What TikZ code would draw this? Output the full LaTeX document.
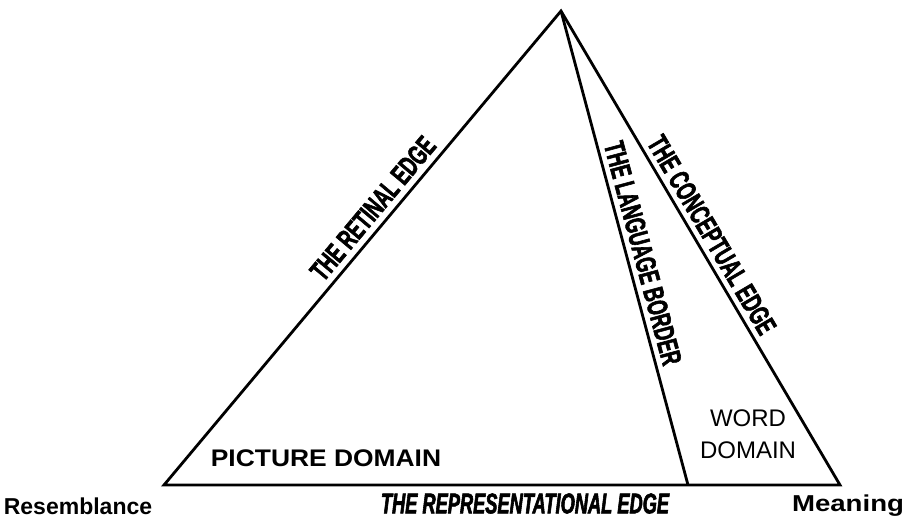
\documentclass[tikz,border=0pt]{standalone}
\usepackage{fontspec}
\setmainfont{Liberation Sans}
\newfontfamily\edgefont[FakeStretch=0.64,FakeBold=2]{Liberation Sans}
\usetikzlibrary{positioning}

\begin{document}
\begin{tikzpicture}[x=1pt,y=-1pt,line width=2.8pt,
    el/.style={font=\edgefont\fontsize{28.5}{28.5}\selectfont\bfseries,inner sep=0pt},
    lb/.style={font=\fontsize{23}{23}\selectfont\bfseries,inner sep=0pt}]
  \useasboundingbox (0,0) rectangle (912,523);
  \coordinate (t) at (561,11);
  \coordinate (r) at (164,485);
  \coordinate (m) at (840,485);
  \coordinate (b) at (688,485);
  \draw[line join=miter] (r) -- (t) -- (m) -- cycle;
  \draw (t) -- (b);
  % edge labels
  \path (r) -- node[el,sloped,pos=0.56,above=6pt] (re) {THE RETINAL EDGE} (t);
  \path (t) -- node[el,sloped,pos=0.52,above=5pt] (lb) {THE LANGUAGE BORDER} (b);
  \path (t) -- node[el,sloped,pos=0.49,above=5pt] (ce) {THE CONCEPTUAL EDGE} (m);
  \path (r) -- node[el,pos=0.534,below=7pt] (rp) {\itshape THE REPRESENTATIONAL EDGE} (m);
  % domains
  \node[lb,font=\fontsize{24}{24}\selectfont\bfseries] (pd) at (326,458) {\scalebox{1.1}[1]{PICTURE DOMAIN}};
  \node[align=center,inner sep=0pt,font=\fontsize{24}{32}\selectfont] (wd) at (748,434) {WORD\\DOMAIN};
  \node[lb] (rs) at (78,506) {Resemblance};
  \node[lb] (mn) at (848,506) {\scalebox{1.2}[1]{Meaning}};
\end{tikzpicture}
\end{document}
